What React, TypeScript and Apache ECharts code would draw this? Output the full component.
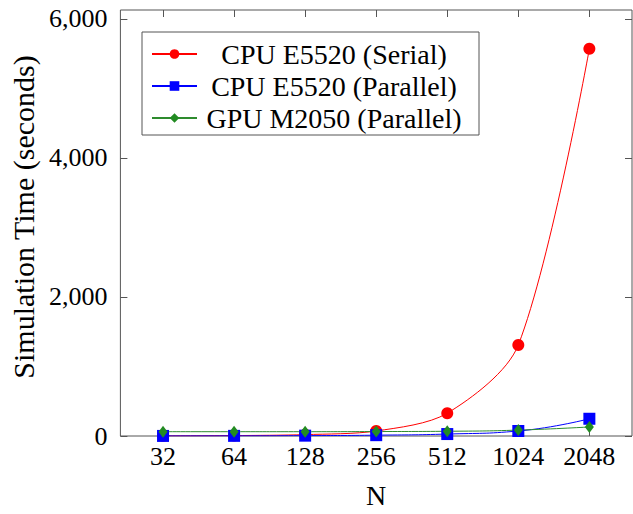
import React, { useEffect, useRef } from "react";
import * as echarts from "echarts";

const categories = ["32", "64", "128", "256", "512", "1024", "2048"];
const cpuSerial = [2, 6, 20, 72, 328, 1310, 5570];
const cpuParallel = [1, 2, 5, 12, 28, 72, 248];
const gpuParallel = [62, 62, 62, 64, 68, 85, 130];
const yTicks = [0, 2000, 4000, 6000];
const seriesNames = ["CPU E5520 (Serial)", "CPU E5520 (Parallel)", "GPU M2050 (Parallel)"];

const FONT = "'Liberation Serif', 'Times New Roman', serif";

export default function App() {
  const ref = useRef<HTMLDivElement>(null);
  useEffect(() => {
    if (!ref.current) return;
    const chart = echarts.init(ref.current, null, { renderer: "svg" });
    const idx = categories.map((_, i) => i);
    const toPts = (arr: number[]) => arr.map((v, i) => [i, v]);
    const xBase = {
      type: "value" as const,
      min: -0.6,
      max: 6.6,
      splitLine: { show: false },
      axisLine: { show: false, onZero: false },
    };
    const yBase = {
      type: "value" as const,
      min: 0,
      max: 6128,
      splitLine: { show: false },
      axisLine: { show: false, onZero: false },
    };
    const tickStyle = { color: "#555", width: 1 };
    chart.setOption({
      animation: false,
      backgroundColor: "#fff",
      textStyle: { fontFamily: FONT },
      grid: {
        left: 116,
        right: 1,
        top: 10,
        bottom: 74,
        show: true,
        borderColor: "#555",
        borderWidth: 1,
        backgroundColor: "transparent",
        containLabel: false,
      },
      xAxis: [
        {
          ...xBase,
          position: "bottom",
          name: "N",
          nameLocation: "middle",
          nameGap: 45,
          nameTextStyle: { fontFamily: FONT, fontSize: 28, color: "#000" },
          axisTick: { show: true, inside: true, length: 7, lineStyle: tickStyle, customValues: idx },
          axisLabel: {
            show: true,
            margin: 7,
            customValues: idx,
            fontFamily: FONT,
            fontSize: 26,
            color: "#000",
            formatter: (v: number) => categories[Math.round(v)] ?? "",
          },
        },
        {
          ...xBase,
          position: "top",
          axisTick: { show: true, inside: true, length: 7, lineStyle: tickStyle, customValues: idx },
          axisLabel: { show: false },
        },
      ],
      yAxis: [
        {
          ...yBase,
          position: "left",
          name: "Simulation Time (seconds)",
          nameLocation: "middle",
          nameGap: 81,
          nameTextStyle: { fontFamily: FONT, fontSize: 30, color: "#000", padding: [0, 0, 0, 12] },
          axisTick: { show: true, inside: true, length: 7, lineStyle: tickStyle, customValues: yTicks },
          axisLabel: {
            show: true,
            margin: 13,
            customValues: yTicks,
            fontFamily: FONT,
            fontSize: 26,
            color: "#000",
            formatter: (v: number) => v.toLocaleString("en-US"),
          },
        },
        {
          ...yBase,
          position: "right",
          axisTick: { show: true, inside: true, length: 7, lineStyle: tickStyle, customValues: yTicks },
          axisLabel: { show: false },
        },
      ],
      legend: {
        orient: "vertical",
        left: 142,
        top: 32,
        padding: [8, 13, 3, 9],
        itemGap: 4,
        itemWidth: 45,
        itemHeight: 12,
        backgroundColor: "#fff",
        borderColor: "#555",
        borderWidth: 1,
        borderRadius: 0,
        data: seriesNames,
        formatter: (name: string) => `{t|${name}}`,
        textStyle: {
          fontFamily: FONT,
          fontSize: 28,
          color: "#000",
          rich: {
            t: { width: 264, align: "center", fontFamily: FONT, fontSize: 28, lineHeight: 31, color: "#000" },
          },
        },
      },
      series: [
        {
          name: seriesNames[0],
          type: "line",
          xAxisIndex: 0,
          yAxisIndex: 0,
          data: toPts(cpuSerial),
          smooth: 0.3,
          symbol: "circle",
          symbolSize: 12,
          lineStyle: { color: "#ff0000", width: 1 },
          itemStyle: { color: "#ff0000" },
        },
        {
          name: seriesNames[1],
          type: "line",
          xAxisIndex: 0,
          yAxisIndex: 0,
          data: toPts(cpuParallel),
          smooth: 0.5,
          symbol: "rect",
          symbolSize: 12,
          lineStyle: { color: "#0000ff", width: 1 },
          itemStyle: { color: "#0000ff" },
        },
        {
          name: seriesNames[2],
          type: "line",
          xAxisIndex: 0,
          yAxisIndex: 0,
          data: toPts(gpuParallel),
          smooth: 0.5,
          symbol: "diamond",
          symbolSize: [9, 12],
          lineStyle: { color: "#2e8b2e", width: 1 },
          itemStyle: { color: "#228b22" },
        },
      ],
    });
    return () => chart.dispose();
  }, []);
  return <div ref={ref} style={{ width: 633, height: 514, position: "absolute", left: 0, top: 0 }} />;
}
